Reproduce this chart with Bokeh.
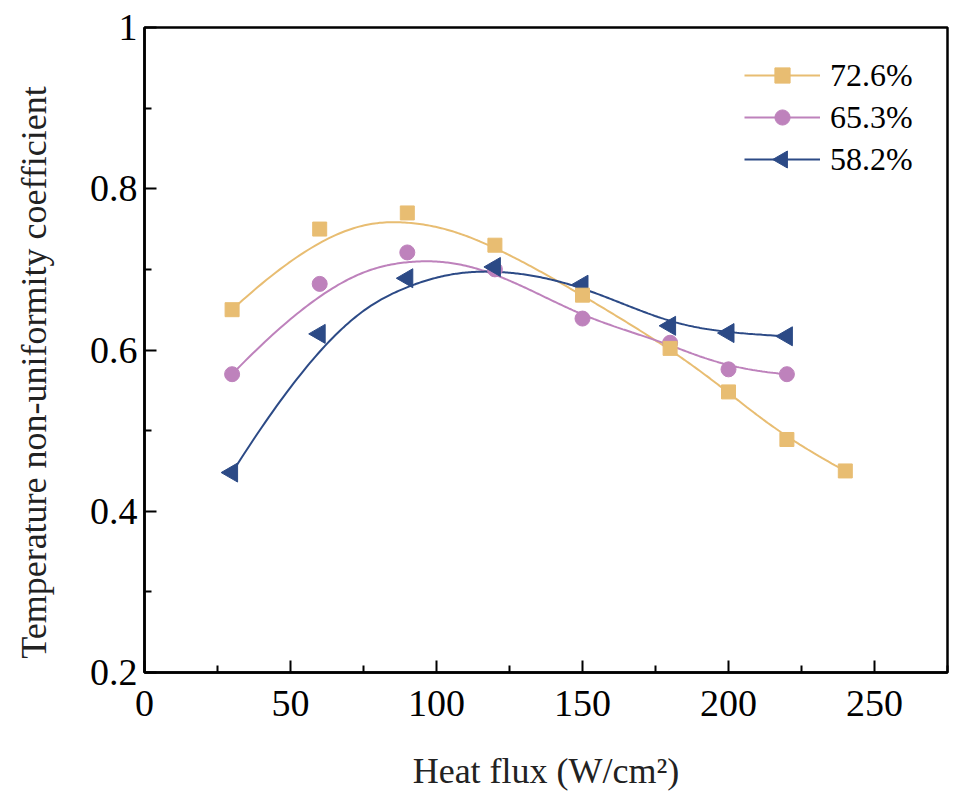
import numpy as np
from bokeh.plotting import figure
from bokeh.models import FixedTicker, CustomJSTickFormatter, Legend, LegendItem, Range1d
from bokeh.embed import file_html
from bokeh.resources import INLINE

# ---- data ----
heat_flux_a = [30, 60, 90, 120, 150, 180, 200, 220, 240]
coef_a = [0.650, 0.750, 0.770, 0.730, 0.668, 0.602, 0.548, 0.489, 0.450]

heat_flux_b = [30, 60, 90, 120, 150, 180, 200, 220]
coef_b = [0.570, 0.682, 0.721, 0.700, 0.639, 0.609, 0.576, 0.570]

heat_flux_c = [30, 60, 90, 120, 150, 180, 200, 220]
coef_c = [0.448, 0.620, 0.689, 0.703, 0.681, 0.630, 0.621, 0.617]

labels = ["72.6%", "65.3%", "58.2%"]
x_ticks = [0, 50, 100, 150, 200, 250]
x_minor = [25, 75, 125, 175, 225, 275]
y_ticks = [0.2, 0.4, 0.6, 0.8, 1.0]
y_minor = [0.3, 0.5, 0.7, 0.9]

FONT = "Liberation Serif"


def bspline(xs, ys, k=3, num=300):
    P = np.column_stack([np.asarray(xs, float), np.asarray(ys, float)])
    n = len(P)
    knots = np.concatenate([np.zeros(k + 1), np.arange(1, n - k), np.full(k + 1, n - k)]).astype(float)
    out = []
    for t in np.linspace(0, n - k, num):
        s = int(np.searchsorted(knots, t, side="right") - 1)
        s = min(s, n - 1)
        d = [P[j + s - k].copy() for j in range(k + 1)]
        for r in range(1, k + 1):
            for j in range(k, r - 1, -1):
                i = j + s - k
                denom = knots[j + 1 + s - r] - knots[i]
                alpha = (t - knots[i]) / denom if denom != 0 else 0.0
                d[j] = (1 - alpha) * d[j - 1] + alpha * d[j]
        out.append(d[k])
    out = np.array(out)
    return out[:, 0], out[:, 1]


FW, FH = 803, 645
p = figure(frame_width=FW, frame_height=FH, output_backend="svg", toolbar_location=None,
           x_range=Range1d(0, 275), y_range=Range1d(0.2, 1.0),
           min_border_left=144, min_border_right=8, min_border_top=27, min_border_bottom=125)
p.extra_x_ranges = {"px": Range1d(0, FW)}
p.extra_y_ranges = {"px": Range1d(0, FH)}

p.xgrid.visible = False
p.ygrid.visible = False
p.outline_line_color = "black"
p.outline_line_width = 2.5
p.background_fill_color = "white"
p.border_fill_color = "white"

gold = "#E8BD72"
pink = "#BE82BC"
navy = "#2C4A86"

# lines
xa, ya = bspline(heat_flux_a, coef_a)
xb, yb = bspline(heat_flux_b, coef_b)
xc, yc = bspline(heat_flux_c, coef_c)
la = p.line(xa, ya, line_color=gold, line_width=2)
lb = p.line(xb, yb, line_color=pink, line_width=2)
lc = p.line(xc, yc, line_color=navy, line_width=2)

sb = p.scatter(heat_flux_b, coef_b, marker="circle", size=15, fill_color=pink, line_color=pink)
sc = p.scatter(heat_flux_c, coef_c, marker="triangle", size=19, angle=np.pi / 2,
               fill_color=navy, line_color=navy)
sa = p.scatter(heat_flux_a, coef_a, marker="square", size=14, fill_color=gold, line_color=gold)

# axes
for ax in (p.xaxis[0], p.yaxis[0]):
    ax.axis_line_width = 2.5
    ax.axis_line_color = "black"
    ax.major_tick_in = 12
    ax.major_tick_out = 0
    ax.minor_tick_in = 7
    ax.minor_tick_out = 0
    ax.major_tick_line_width = 2
    ax.minor_tick_line_width = 2
    ax.major_label_text_font = FONT
    ax.major_label_text_font_size = "38px"
    ax.major_label_text_color = "black"
    ax.axis_label_text_font = FONT
    ax.axis_label_text_font_size = "36px"
    ax.axis_label_text_font_style = "normal"
    ax.axis_label_text_color = "#222222"

p.xaxis.ticker = FixedTicker(ticks=x_ticks, minor_ticks=x_minor)
p.yaxis.ticker = FixedTicker(ticks=y_ticks, minor_ticks=y_minor)
p.yaxis.formatter = CustomJSTickFormatter(code="return Math.abs(tick-1)<1e-9 ? '1' : tick.toFixed(1);")
p.xaxis.major_label_standoff = 18
p.yaxis.major_label_standoff = 7
p.xaxis.axis_label = "Heat flux (W/cm²)"
# trailing no-break spaces shift the rotated title slightly downward, as in the original
p.yaxis.axis_label = "Temperature non-uniformity coefficient" + "\u00a0" * 5
p.xaxis.axis_label_standoff = 32
p.yaxis.axis_label_standoff = 33

# legend layout (pixels, relative to frame)
LG_X, LG_TOP = 600, 29
ROW_H, ROW_SP, GLYPH_W = 38, 4, 76
LG_H = 3 * ROW_H + 2 * ROW_SP

legend = Legend(items=[
    LegendItem(label=labels[0], renderers=[la, sa]),
    LegendItem(label=labels[1], renderers=[lb, sb]),
    LegendItem(label=labels[2], renderers=[lc]),
], location=(LG_X, FH - LG_TOP - LG_H))
legend.label_text_font = FONT
legend.label_text_font_size = "32px"
legend.label_text_color = "black"
legend.glyph_width = GLYPH_W
legend.glyph_height = ROW_H
legend.label_height = ROW_H
legend.label_standoff = 10
legend.spacing = ROW_SP
legend.padding = 0
legend.margin = 0
legend.border_line_alpha = 0
legend.background_fill_alpha = 0
p.add_layout(legend, "center")

# left-pointing triangle key for the third legend entry (legend keys ignore marker angle)
key_x = LG_X + GLYPH_W / 2
key_y = FH - (LG_TOP + 2 * (ROW_H + ROW_SP) + ROW_H / 2)
p.scatter([key_x], [key_y], x_range_name="px", y_range_name="px", marker="triangle",
          size=17, angle=np.pi / 2, fill_color=navy, line_color=navy)

open("out.html", "w").write(file_html(p, INLINE))
